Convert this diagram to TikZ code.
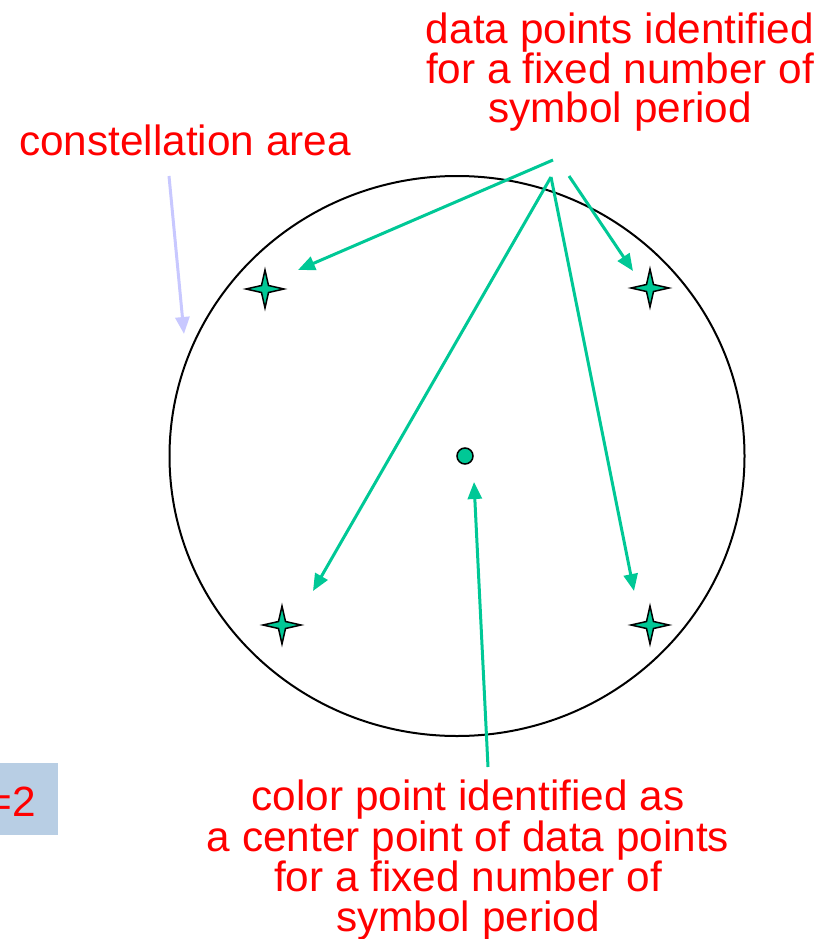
\documentclass[tikz,border=0pt]{standalone}
\usepackage{fontspec}
\setmainfont{Liberation Sans}
\usetikzlibrary{arrows.meta}
\definecolor{tgreen}{RGB}{0,200,150}
\definecolor{lav}{RGB}{200,200,255}
\definecolor{boxblue}{RGB}{184,206,228}
\tikzset{
  lbl/.style={text=red, font=\fontsize{42.3}{39.3}\selectfont, align=center, inner sep=0pt},
  garrow/.style={draw=tgreen, line width=3pt, -{Triangle[length=17pt,width=14pt]}},
  starpath/.style={draw=black, fill=tgreen, line width=1.5pt},
}
\newcommand{\mystar}[2]{%
  \fill[starpath] (#1,#2) ++(0,-19) -- ++(3.5,15.5) -- ++(15.5,3.5) -- ++(-15.5,3.5) -- ++(-3.5,15.5) -- ++(-3.5,-15.5) -- ++(-15.5,-3.5) -- ++(15.5,-3.5) -- cycle;}
\begin{document}
\begin{tikzpicture}[x=1pt,y=-1pt]
\useasboundingbox (0,0) rectangle (829,939);
% box at left
\node[fill=boxblue, minimum width=58pt, minimum height=72pt, anchor=north west, inner sep=0pt] (box) at (0,763) {};
\node[lbl, anchor=east] (eq) at (36,802) {=2};
% circle
\draw[line width=2pt] (457,456) ellipse [x radius=287.5, y radius=280];
% stars
\mystar{265}{289}
\mystar{650}{288}
\mystar{282}{625}
\mystar{650}{625}
\node[circle, draw=black, fill=tgreen, line width=1.5pt, minimum size=16pt, inner sep=0pt] (dot) at (465,456) {};
% labels
\node[lbl] (top) at (620,72) {data points identified\\for a fixed number of\\symbol period};
\node[lbl] (const) at (185,140) {constellation area};
\node[lbl, anchor=north] (bot) at (468,780) {color point identified as\\a center point of data points\\for a fixed number of\\symbol period};
% arrow coordinates
\coordinate (s1) at (553,160);
\coordinate (s2) at (551,177);
\coordinate (s3) at (569,176);
\coordinate (t1) at (298,270);
\coordinate (t2) at (313,591);
\coordinate (t3) at (634,591);
\coordinate (t4) at (633,271);
\coordinate (bs) at (488,767);
\coordinate (bt) at (474,482);
\coordinate (cs) at (169,176);
\coordinate (ct) at (184,334);
\draw[garrow] (s1) -- (t1);
\draw[garrow] (s2) -- (t2);
\draw[garrow] (s2) -- (t3);
\draw[garrow] (s3) -- (t4);
\draw[garrow] (bs) -- (bt);
\draw[draw=lav, line width=3pt, -{Triangle[length=17pt,width=14pt]}] (cs) -- (ct);
\end{tikzpicture}
\end{document}
